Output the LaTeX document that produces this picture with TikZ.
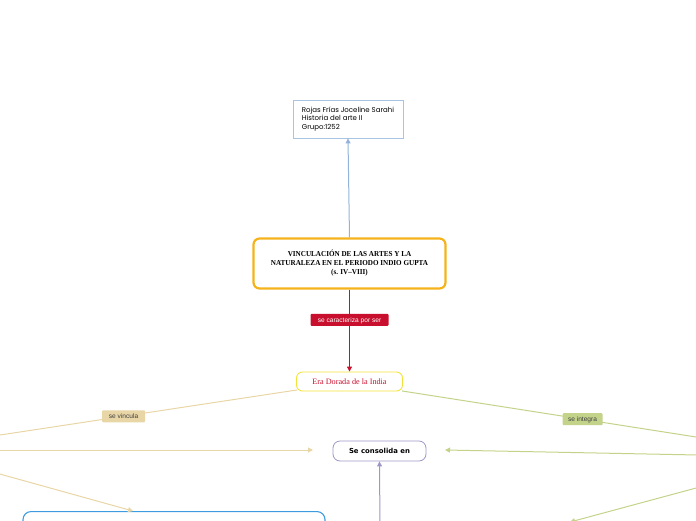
\documentclass[tikz,border=0pt]{standalone}
\usepackage{fontspec}
\setmainfont{Liberation Serif}
\newfontfamily\popp{Poppins}
\newfontfamily\dvs{DejaVu Sans}
\newfontfamily\lsans{Liberation Sans}
\usetikzlibrary{arrows.meta,positioning}
\definecolor{gold}{HTML}{F5B21B}
\definecolor{topblue}{HTML}{A8C4E2}
\definecolor{linkblue}{HTML}{94B3DA}
\definecolor{redc}{HTML}{C8102E}
\definecolor{yel}{HTML}{F3E23A}
\definecolor{beige}{HTML}{E9D6A6}
\definecolor{grn}{HTML}{C3D38A}
\definecolor{purp}{HTML}{9F96C6}
\definecolor{bblue}{HTML}{3D9BE0}
\tikzset{
  tip/.style={-{Triangle[width=5pt,length=5pt]}},
  lab/.style={rounded corners=1pt, inner sep=0pt, minimum height=12pt, font=\lsans\fontsize{6.6}{7}\selectfont, text depth=0pt},
}
\begin{document}
\begin{tikzpicture}[x=1pt,y=-1pt]
\useasboundingbox (0,0) rectangle (696,520);
\clip (0,0) rectangle (696,520);
% nodes
\node[draw=topblue, line width=0.8pt, minimum width=110pt, minimum height=38pt, inner sep=0pt, align=left, font=\popp\fontsize{7}{8.4}\selectfont] (top) at (348,119)
 {Rojas Frías Joceline Sarahi\\Historia del arte II\\Grupo:1252};
\node[draw=gold, line width=2.2pt, rounded corners=6pt, minimum width=192pt, minimum height=50pt, inner sep=0pt, align=center, font=\bfseries\fontsize{7.6}{9}\selectfont] (main) at (349.5,263.5)
 {\scalebox{0.94}[1]{VINCULACIÓN DE LAS ARTES Y LA}\\\scalebox{0.94}[1]{NATURALEZA EN EL PERIODO INDIO GUPTA}\\\scalebox{0.94}[1]{(s. IV–VIII)}};
\node[draw=yel, line width=0.9pt, rounded corners=6pt, minimum width=106pt, minimum height=19pt, inner sep=0pt, text=redc, font=\fontsize{8.2}{9}\selectfont] (era) at (349.5,381.5) {Era Dorada de la India};
\node[draw=purp, line width=0.8pt, rounded corners=7pt, minimum width=93pt, minimum height=20pt, inner sep=0pt, font=\dvs\bfseries\fontsize{6.9}{8}\selectfont] (cons) at (379.5,451) {Se consolida en};
\node[draw=bblue, line width=1.1pt, rounded corners=8pt, minimum width=302pt, minimum height=60pt, inner sep=0pt, anchor=north] (bot) at (174,511) {};
% off-canvas coordinates
\coordinate (L1) at (-2,435.3);
\coordinate (L2) at (-2,450);
\coordinate (L3) at (-2,473.5);
\coordinate (R1) at (698,437.3);
\coordinate (R2) at (698,455);
\coordinate (R3) at (698,487.5);
\coordinate (B1) at (380,530);
\coordinate (G3) at (570,522);
% connectors
\draw[linkblue, line width=1pt, tip] (main.north) -- (top.south);
\draw[redc, line width=1pt, tip] (main.south) -- node[pos=0.37, fill=redc, text=white, lab, minimum width=78pt] {se caracteriza por ser} (era.north);
\draw[beige, line width=1pt] (era.south west) ++(1,-1.5) -- node[pos=0.58, fill=beige, text=black!75, lab, minimum width=43pt] {se vincula} (L1);
\draw[beige, line width=1pt, tip] (L2) -- (313,450);
\draw[beige, line width=1pt, tip] (L3) -- (133,511);
\draw[grn, line width=1pt] (era.south east) ++(-1,-0.5) -- node[pos=0.61, fill=grn, text=black!75, lab, minimum width=40pt] {se integra} (R1);
\draw[grn, line width=1pt, tip] (R2) -- (445,450);
\draw[grn, line width=1pt, tip] (R3) -- (G3);
\draw[purp, line width=1pt, tip] (B1) -- (cons.south);
\end{tikzpicture}
\end{document}
